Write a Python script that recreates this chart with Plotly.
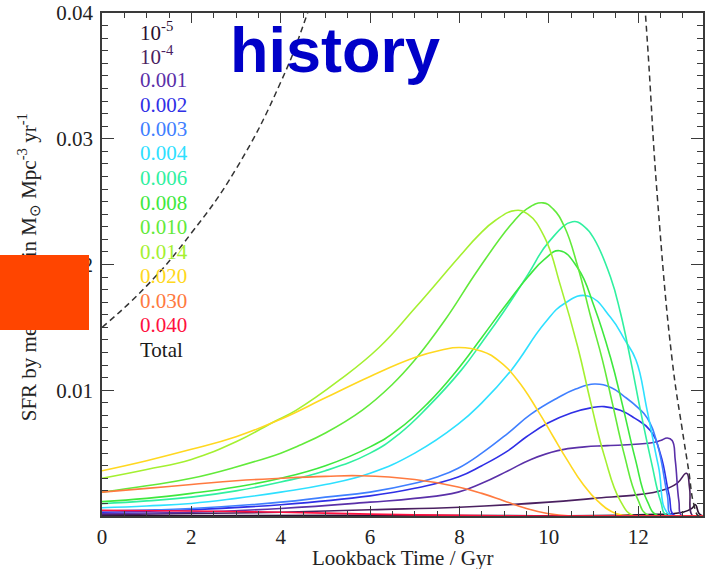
import plotly.graph_objects as go

# Star formation rate density split by metallicity bin.
# Lookback time in Gyr, SFR in M_sun Mpc^-3 yr^-1.

t_z1e5 = [0, 6, 12, 13.0, 13.2, 13.28, 13.36, 13.45]
sfr_z1e5 = [0.00002, 0.00005, 0.0001, 0.0003, 0.0006, 0.0009, 0.0002, 0.0]

t_z1e4 = [0, 2, 4, 6, 8, 10, 11, 12, 12.5, 12.87, 13.08, 13.15, 13.22, 13.45]
sfr_z1e4 = [0.0001, 0.0002, 0.0003, 0.0005, 0.0007, 0.0011, 0.0014, 0.0017,
            0.0020, 0.0026, 0.0034, 0.0022, 0.0, 0.0]

t_z001 = [0, 2, 4, 6, 7, 7.97, 8.5, 9.09, 9.6, 10.2, 10.8, 11.31, 12.27, 12.5, 12.65,
          12.76, 12.83, 12.91, 12.98, 13.45]
sfr_z001 = [0.0002, 0.0003, 0.0006, 0.0011, 0.0014, 0.0019, 0.0026, 0.0036, 0.0045,
            0.0052, 0.0055, 0.0056, 0.0058, 0.0060, 0.0062, 0.0060, 0.0044, 0.0012,
            0.0, 0.0]

t_z002 = [0, 2, 4, 6, 7, 7.97, 8.5, 9.09, 9.5, 9.98, 10.5, 10.94, 11.24, 11.6, 11.91,
          12.27, 12.5, 12.69, 12.82, 13.45]
sfr_z002 = [0.0003, 0.0005, 0.0009, 0.0016, 0.0022, 0.0031, 0.0040, 0.0052, 0.0063,
            0.0074, 0.0082, 0.0086, 0.0087, 0.0084, 0.0078, 0.0068, 0.0049, 0.0017,
            0.0, 0.0]

t_z003 = [0, 2, 4, 5, 6, 7, 7.5, 7.97, 8.5, 9.09, 9.6, 10.2, 10.6, 11.02, 11.4, 11.69,
          12.0, 12.2, 12.43, 12.65, 12.76, 13.45]
sfr_z003 = [0.0004, 0.0006, 0.0011, 0.0015, 0.0019, 0.0026, 0.0031, 0.0038, 0.0050,
            0.0066, 0.0081, 0.0094, 0.0101, 0.0105, 0.0102, 0.0095, 0.0086, 0.0078,
            0.0057, 0.0017, 0.0, 0.0]

t_z004 = [0, 1, 2, 3, 4, 5, 6, 7, 7.97, 8.5, 9.16, 9.9, 10.35, 10.87, 11.38, 11.7,
          11.95, 12.2, 12.45, 12.72, 13.45]
sfr_z004 = [0.00066, 0.0008, 0.0010, 0.0014, 0.0019, 0.0025, 0.0034, 0.0050, 0.0073,
            0.0090, 0.0116, 0.0153, 0.0169, 0.0175, 0.0158, 0.0140, 0.0124, 0.0084,
            0.0040, 0.0, 0.0]

t_z006 = [0, 1, 2, 3, 4, 5, 6, 6.64, 7.3, 8.04, 8.5, 9, 9.53, 10, 10.53, 10.8, 11.02,
          11.38, 11.6, 11.83, 12.05, 12.3, 12.5, 12.65, 13.45]
sfr_z006 = [0.00098, 0.0012, 0.0015, 0.0020, 0.0027, 0.0036, 0.0050, 0.0065, 0.0087,
            0.0116, 0.0138, 0.0163, 0.0192, 0.0218, 0.0234, 0.0230, 0.0220, 0.0190,
            0.0162, 0.0124, 0.0084, 0.0042, 0.0012, 0.0, 0.0]

t_z008 = [0, 1, 2, 3, 4, 5, 6, 6.64, 7.3, 7.9, 8.5, 9, 9.53, 9.9, 10.24, 10.65, 11.02,
          11.38, 11.65, 11.93, 12.2, 12.45, 13.45]
sfr_z008 = [0.00114, 0.0014, 0.0018, 0.0023, 0.0030, 0.0040, 0.0055, 0.0069, 0.0090,
            0.0114, 0.0142, 0.0166, 0.0190, 0.0204, 0.0211, 0.0197, 0.0166, 0.0126,
            0.0088, 0.0046, 0.0012, 0.0, 0.0]

t_z010 = [0, 1, 2, 3, 4, 4.41, 5, 5.82, 6.48, 7, 7.68, 8.42, 9.16, 9.5, 9.87, 10.1,
          10.35, 10.65, 10.94, 11.2, 11.42, 11.68, 11.98, 12.25, 13.45]
sfr_z010 = [0.0019, 0.0024, 0.0030, 0.0039, 0.0050, 0.0056, 0.0066, 0.0084, 0.0104,
            0.0124, 0.0156, 0.0196, 0.0232, 0.0244, 0.0249, 0.0244, 0.0230, 0.0198,
            0.0158, 0.0124, 0.0090, 0.0050, 0.0014, 0.0, 0.0]

t_z014 = [0, 1, 2, 3, 3.85, 4.34, 5.31, 6.2, 7.02, 7.99, 8.42, 8.8, 9.25, 9.53, 9.9,
          10.27, 10.65, 10.94, 11.24, 11.6, 11.9, 12.5, 13.45]
sfr_z014 = [0.0030, 0.0037, 0.0045, 0.0059, 0.0075, 0.0084, 0.0108, 0.0134, 0.0166,
            0.0206, 0.0223, 0.0235, 0.0243, 0.0240, 0.0222, 0.0182, 0.0134, 0.0090,
            0.0048, 0.0012, 0.0, 0.0, 0.0]

t_z020 = [0, 1, 2, 3, 4, 5, 6, 7, 7.6, 8.0, 8.5, 8.86, 9.3, 9.75, 10.1, 10.42, 10.75,
          11.09, 11.5, 12, 13.45]
sfr_z020 = [0.0036, 0.0044, 0.0053, 0.0063, 0.0077, 0.0094, 0.0111, 0.0126, 0.0132,
            0.0134, 0.0131, 0.0124, 0.0108, 0.0084, 0.0063, 0.0044, 0.0026, 0.0012,
            0.0002, 0.0, 0.0]

t_z030 = [0, 1, 2, 3, 4, 5, 5.8, 7, 7.97, 8.5, 9, 9.5, 9.97, 10.5, 11, 13.45]
sfr_z030 = [0.0019, 0.0022, 0.0025, 0.0028, 0.0030, 0.00315, 0.0032, 0.0029, 0.0023,
            0.0018, 0.0012, 0.0006, 0.0002, 0.0, 0.0, 0.0]

t_z040 = [0, 2, 4, 6, 8, 10, 13.45]
sfr_z040 = [0.00045, 0.0004, 0.0003, 0.00015, 0.00005, 0.0, 0.0]

t_total = [0, 1, 2, 3, 4, 4.6, 5.5, 7, 9, 10.5, 11.5, 12.16, 12.43, 12.76, 12.98,
           13.13, 13.24, 13.35, 13.45]
sfr_total = [0.0150, 0.0183, 0.0225, 0.0276, 0.0345, 0.0400, 0.050, 0.070, 0.100,
             0.110, 0.070, 0.040, 0.0253, 0.0124, 0.0070, 0.0036, 0.0010, 0.0, 0.0]

bin_labels = ["10<sup>-5</sup>", "10<sup>-4</sup>", "0.001", "0.002", "0.003", "0.004",
              "0.006", "0.008", "0.010", "0.014", "0.020", "0.030", "0.040", "Total"]
bin_colors = ["#2a1030", "#4a2060", "#5a30a8", "#2f2fe6", "#3f7fff", "#2ee0ff",
              "#30f0a0", "#3ee83e", "#62ea3a", "#a4f030", "#ffd820", "#ff7a40",
              "#ff1040", "#1a1a1a"]

series_t = [t_z1e5, t_z1e4, t_z001, t_z002, t_z003, t_z004, t_z006, t_z008, t_z010,
            t_z014, t_z020, t_z030, t_z040]
series_sfr = [sfr_z1e5, sfr_z1e4, sfr_z001, sfr_z002, sfr_z003, sfr_z004, sfr_z006,
              sfr_z008, sfr_z010, sfr_z014, sfr_z020, sfr_z030, sfr_z040]

x_ticks = [0, 2, 4, 6, 8, 10, 12]
y_ticks = [0.01, 0.02, 0.03, 0.04]

W, H = 705, 569
ML, MR, MT, MB = 102, 0, 13, 53
PW, PH = W - ML - MR, H - MT - MB


def fx(p):
    """pixel column -> paper x"""
    return (p - ML) / PW


def fy(p):
    """pixel row -> paper y"""
    return (H - MB - p) / PH


SERIF = "Liberation Serif, Times New Roman, serif"

fig = go.Figure()
for tt, vv, col in zip(series_t, series_sfr, bin_colors):
    fig.add_trace(go.Scatter(x=tt, y=vv, mode="lines", showlegend=False,
                             line=dict(color=col, width=1.6, shape="spline", smoothing=1.3),
                             hoverinfo="skip"))

fig.add_trace(go.Scatter(x=t_total, y=sfr_total, mode="lines", showlegend=False,
                         line=dict(color="#333333", width=1.5, dash="6px,4px",
                                   shape="spline", smoothing=1.3),
                         hoverinfo="skip"))

axis_col = "#3a3a3a"
fig.update_xaxes(range=[0, 13.45], showgrid=False, zeroline=False,
                 showline=True, linecolor=axis_col, linewidth=1.6, mirror="allticks",
                 ticks="inside", ticklen=10, tickwidth=1.4, tickcolor=axis_col,
                 tickvals=x_ticks, ticktext=[str(v) for v in x_ticks],
                 tickfont=dict(family=SERIF, size=21, color="#222"),
                 ticklabelstandoff=1,
                 minor=dict(dtick=0.5, tick0=0, ticks="inside", ticklen=5,
                            tickwidth=1.2, tickcolor=axis_col))
fig.update_yaxes(range=[0, 0.04], showgrid=False, zeroline=False,
                 showline=True, linecolor=axis_col, linewidth=1.6, mirror="allticks",
                 ticks="inside", ticklen=12, tickwidth=1.4, tickcolor=axis_col,
                 tickvals=y_ticks, ticktext=["0.01", "0.02", "0.03", "0.04"],
                 tickfont=dict(family=SERIF, size=21, color="#222"),
                 ticklabelstandoff=3,
                 minor=dict(dtick=0.001, tick0=0, ticks="inside", ticklen=6,
                            tickwidth=1.2, tickcolor=axis_col))

annotations = []
# axis titles
annotations.append(dict(xref="paper", yref="paper", x=fx(28), y=fy(267),
                        xanchor="center", yanchor="middle", textangle=-90, showarrow=False,
                        text="SFR by metallicity in M<sub>\u2299</sub> Mpc<sup>-3</sup> yr<sup>-1</sup>",
                        font=dict(family=SERIF, size=21, color="#222")))
# solid patch over part of the y title
annotations.append(dict(xref="paper", yref="paper", x=fx(44.5), y=fy(292.5),
                        xanchor="center", yanchor="middle", showarrow=False, text=" ",
                        width=89, height=75, bgcolor="#ff4500", borderpad=0, borderwidth=0))
annotations.append(dict(xref="paper", yref="paper", x=fx(404), y=fy(558),
                        xanchor="center", yanchor="middle", showarrow=False,
                        text="Lookback Time / Gyr",
                        font=dict(family=SERIF, size=21, color="#222")))
# coloured key
for i, (lab, col) in enumerate(zip(bin_labels, bin_colors)):
    annotations.append(dict(xref="paper", yref="paper", x=fx(138), y=fy(31 + 24.5 * i),
                            xanchor="left", yanchor="middle", showarrow=False, text=lab,
                            font=dict(family=SERIF, size=21, color=col)))
# heading
annotations.append(dict(xref="paper", yref="paper", x=fx(336), y=fy(50),
                        xanchor="center", yanchor="middle", showarrow=False, text="history",
                        font=dict(family="Liberation Sans, Arial, sans-serif", size=63,
                                  color="#0000c8", weight="bold")))

fig.update_layout(width=W, height=H, margin=dict(l=ML, r=MR, t=MT, b=MB, pad=0),
                  plot_bgcolor="white", paper_bgcolor="white",
                  annotations=annotations, showlegend=False)

fig.write_html("out.html")
